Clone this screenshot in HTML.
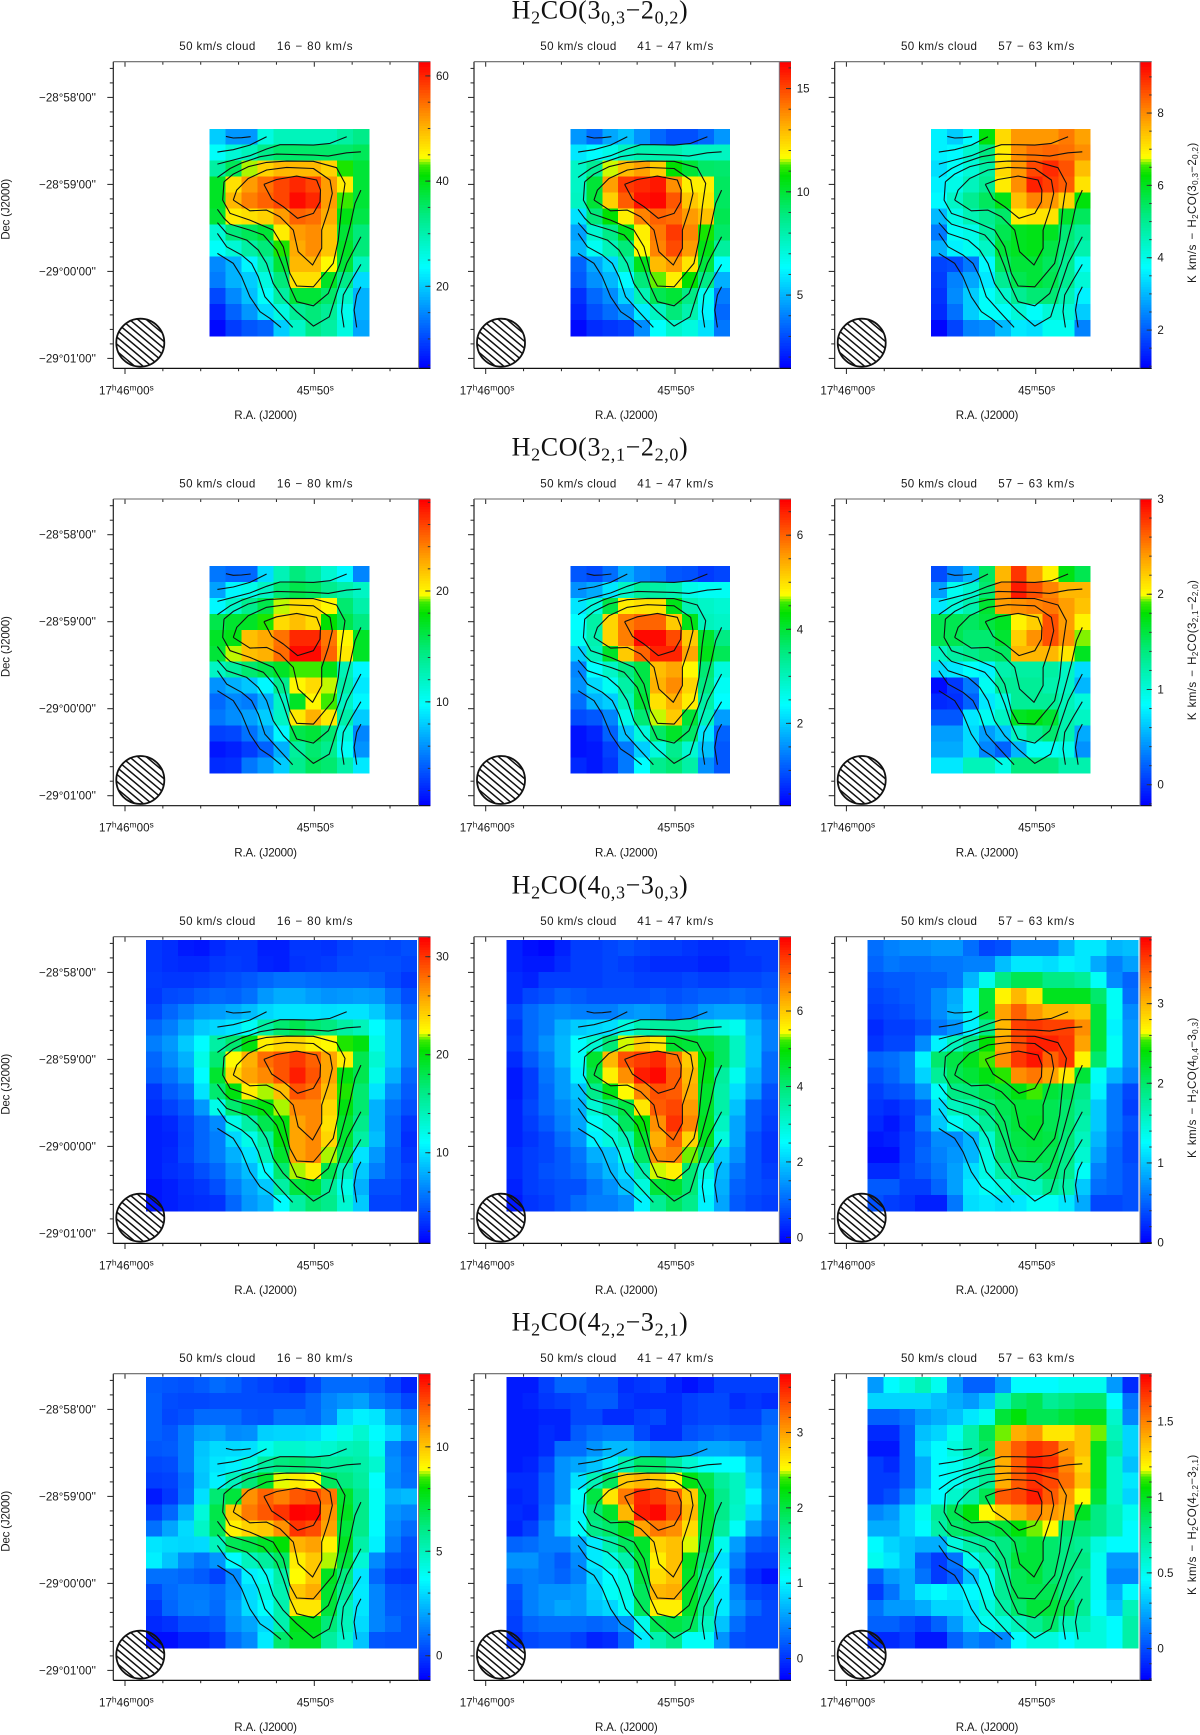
<!DOCTYPE html>
<html lang="en">
<head>
<meta charset="utf-8">
<title>H2CO integrated intensity maps of the 50 km/s cloud</title>
<style>
html,body{margin:0;padding:0;background:#fff;}
svg{display:block;}
.s{font-family:"Liberation Sans",sans-serif;font-size:11.6px;fill:#1a1a1a;}
.big{font-family:"Liberation Serif",serif;font-size:26px;fill:#111;letter-spacing:.65px;}
.big .sub{font-size:18px;}
.r{font-family:"Liberation Sans",sans-serif;font-size:11.6px;fill:#1a1a1a;letter-spacing:.35px;word-spacing:1.2px;}
.r .sub{font-size:8px;}
</style>
</head>
<body>
<svg id="chart" width="1200" height="1735" viewBox="0 0 1200 1735">
<text class="big" x="600" y="18.3" text-anchor="middle">H<tspan class="sub" dy="5">2</tspan><tspan dy="-5">CO(3</tspan><tspan class="sub" dy="5">0,3</tspan><tspan dy="-5">−2</tspan><tspan class="sub" dy="5">0,2</tspan><tspan dy="-5">)</tspan></text>
<text class="big" x="600" y="455.6" text-anchor="middle">H<tspan class="sub" dy="5">2</tspan><tspan dy="-5">CO(3</tspan><tspan class="sub" dy="5">2,1</tspan><tspan dy="-5">−2</tspan><tspan class="sub" dy="5">2,0</tspan><tspan dy="-5">)</tspan></text>
<text class="big" x="600" y="893.3" text-anchor="middle">H<tspan class="sub" dy="5">2</tspan><tspan dy="-5">CO(4</tspan><tspan class="sub" dy="5">0,3</tspan><tspan dy="-5">−3</tspan><tspan class="sub" dy="5">0,3</tspan><tspan dy="-5">)</tspan></text>
<text class="big" x="600" y="1330.3" text-anchor="middle">H<tspan class="sub" dy="5">2</tspan><tspan dy="-5">CO(4</tspan><tspan class="sub" dy="5">2,2</tspan><tspan dy="-5">−3</tspan><tspan class="sub" dy="5">2,1</tspan><tspan dy="-5">)</tspan></text>

<g id="r1c1" transform="translate(113.3,61.7)">
<text class="s" x="66" y="-11.7" textLength="76">50 km/s cloud</text>
<text class="s" x="163.6" y="-11.7" textLength="75.7">16 − 80 km/s</text>
<text class="s" x="121" y="357.3" textLength="62.7">R.A. (J2000)</text>
<text class="s" transform="translate(-104,147.6) rotate(-90)" text-anchor="middle" textLength="61">Dec (J2000)</text>
</g>
<g id="r1c2" transform="translate(474,61.7)">
<text class="s" x="66.3" y="-11.7" textLength="76">50 km/s cloud</text>
<text class="s" x="163.3" y="-11.7" textLength="76">41 − 47 km/s</text>
<text class="s" x="121" y="357.3" textLength="62.7">R.A. (J2000)</text>
</g>
<g id="r1c3" transform="translate(834.7,61.7)">
<text class="s" x="66.3" y="-11.7" textLength="76">50 km/s cloud</text>
<text class="s" x="163.6" y="-11.7" textLength="76">57 − 63 km/s</text>
<text class="s" x="121" y="357.3" textLength="62.7">R.A. (J2000)</text>
<text class="r" transform="translate(361.3,151) rotate(-90)" text-anchor="middle">K km/s − H<tspan class="sub" dy="2">2</tspan><tspan dy="-2">CO(3</tspan><tspan class="sub" dy="2">0,3</tspan><tspan dy="-2">−2</tspan><tspan class="sub" dy="2">0,2</tspan><tspan dy="-2">)</tspan></text>
</g>

<g id="r2c1" transform="translate(113.3,499)">
<text class="s" x="66" y="-11.7" textLength="76">50 km/s cloud</text>
<text class="s" x="163.6" y="-11.7" textLength="75.7">16 − 80 km/s</text>
<text class="s" x="121" y="357.3" textLength="62.7">R.A. (J2000)</text>
<text class="s" transform="translate(-104,147.6) rotate(-90)" text-anchor="middle" textLength="61">Dec (J2000)</text>
</g>
<g id="r2c2" transform="translate(474,499)">
<text class="s" x="66.3" y="-11.7" textLength="76">50 km/s cloud</text>
<text class="s" x="163.3" y="-11.7" textLength="76">41 − 47 km/s</text>
<text class="s" x="121" y="357.3" textLength="62.7">R.A. (J2000)</text>
</g>
<g id="r2c3" transform="translate(834.7,499)">
<text class="s" x="66.3" y="-11.7" textLength="76">50 km/s cloud</text>
<text class="s" x="163.6" y="-11.7" textLength="76">57 − 63 km/s</text>
<text class="s" x="121" y="357.3" textLength="62.7">R.A. (J2000)</text>
<text class="r" transform="translate(361.3,151) rotate(-90)" text-anchor="middle">K km/s − H<tspan class="sub" dy="2">2</tspan><tspan dy="-2">CO(3</tspan><tspan class="sub" dy="2">2,1</tspan><tspan dy="-2">−2</tspan><tspan class="sub" dy="2">2,0</tspan><tspan dy="-2">)</tspan></text>
</g>

<g id="r3c1" transform="translate(113.3,936.7)">
<text class="s" x="66" y="-11.7" textLength="76">50 km/s cloud</text>
<text class="s" x="163.6" y="-11.7" textLength="75.7">16 − 80 km/s</text>
<text class="s" x="121" y="357.3" textLength="62.7">R.A. (J2000)</text>
<text class="s" transform="translate(-104,147.6) rotate(-90)" text-anchor="middle" textLength="61">Dec (J2000)</text>
</g>
<g id="r3c2" transform="translate(474,936.7)">
<text class="s" x="66.3" y="-11.7" textLength="76">50 km/s cloud</text>
<text class="s" x="163.3" y="-11.7" textLength="76">41 − 47 km/s</text>
<text class="s" x="121" y="357.3" textLength="62.7">R.A. (J2000)</text>
</g>
<g id="r3c3" transform="translate(834.7,936.7)">
<text class="s" x="66.3" y="-11.7" textLength="76">50 km/s cloud</text>
<text class="s" x="163.6" y="-11.7" textLength="76">57 − 63 km/s</text>
<text class="s" x="121" y="357.3" textLength="62.7">R.A. (J2000)</text>
<text class="r" transform="translate(361.3,151) rotate(-90)" text-anchor="middle">K km/s − H<tspan class="sub" dy="2">2</tspan><tspan dy="-2">CO(4</tspan><tspan class="sub" dy="2">0,4</tspan><tspan dy="-2">−3</tspan><tspan class="sub" dy="2">0,3</tspan><tspan dy="-2">)</tspan></text>
</g>

<g id="r4c1" transform="translate(113.3,1373.7)">
<text class="s" x="66" y="-11.7" textLength="76">50 km/s cloud</text>
<text class="s" x="163.6" y="-11.7" textLength="75.7">16 − 80 km/s</text>
<text class="s" x="121" y="357.3" textLength="62.7">R.A. (J2000)</text>
<text class="s" transform="translate(-104,147.6) rotate(-90)" text-anchor="middle" textLength="61">Dec (J2000)</text>
</g>
<g id="r4c2" transform="translate(474,1373.7)">
<text class="s" x="66.3" y="-11.7" textLength="76">50 km/s cloud</text>
<text class="s" x="163.3" y="-11.7" textLength="76">41 − 47 km/s</text>
<text class="s" x="121" y="357.3" textLength="62.7">R.A. (J2000)</text>
</g>
<g id="r4c3" transform="translate(834.7,1373.7)">
<text class="s" x="66.3" y="-11.7" textLength="76">50 km/s cloud</text>
<text class="s" x="163.6" y="-11.7" textLength="76">57 − 63 km/s</text>
<text class="s" x="121" y="357.3" textLength="62.7">R.A. (J2000)</text>
<text class="r" transform="translate(361.3,151) rotate(-90)" text-anchor="middle">K km/s − H<tspan class="sub" dy="2">2</tspan><tspan dy="-2">CO(4</tspan><tspan class="sub" dy="2">2,2</tspan><tspan dy="-2">−3</tspan><tspan class="sub" dy="2">2,1</tspan><tspan dy="-2">)</tspan></text>
</g>
</svg>

<script>
// ---------- integrated intensity maps (K km/s), top row first, east on the left ----------
const map_r1c1 = [
[20,16,16,26,29,29,29,29,31,33],
[24,27,29,33,35,35,35,35,35,36],
[31,36,44,48,50,50,50,48,42,38],
[39,47,52,55,58,60,58,52,46,38],
[39,50,54,56,58,62,60,52,43,38],
[38,46,47,48,52,56,55,51,40,37],
[27,34,36,38,46,52,53,49,38,34],
[24,27,31,34,42,51,53,49,39,34],
[15,18,23,30,38,50,50,45,38,29],
[14,18,20,26,34,47,47,39,33,21],
[10,15,19,24,31,38,38,35,28,18],
[7,12,16,21,26,32,34,32,25,18],
[5,9,11,12,20,28,33,31,26,17]];
const map_r1c2 = [
[4.4,3.6,4.7,5.2,4.3,3.5,3,3,3.5,4.4],
[5.9,6.3,6.8,7.6,8,8,8,7.6,7.6,7.6],
[7.5,8.5,11.6,13,13.5,12.7,10.8,10,9.3,9.2],
[7.5,10,13.5,15.3,15.6,15.9,13.8,12,12,9.4],
[7.6,10,12.6,14.7,16,16.2,14.8,12.8,12.2,9.4],
[5.8,9,10.8,12,14,14.6,14.4,13.6,12.9,9.6],
[4.6,7.3,8.8,10.4,12,14.2,15.3,14,11,9.3],
[5,6.6,7.8,9,11.8,14,15,13.6,10.5,8.3],
[3.4,4.7,5.6,8,10.4,13,13.6,12.2,9.9,6.4],
[3.2,4.3,5,6.3,9,11.4,12,10.8,8.8,4.9],
[2.4,3.5,4.2,5.5,7.8,9.6,10,8.8,6.6,3.9],
[2.1,3,3.6,4.3,6,7.6,9,8,6.2,3.5],
[1.6,2.3,2.5,2.7,4.2,6.4,7.4,7,5.8,3.8]];
const map_r1c3 = [
[3.6,3.2,3.7,6.2,7.2,7.9,7.9,7.9,8.2,7.8],
[3.6,3.7,4.3,5.2,7,8,8.3,8.4,8.3,8],
[3.4,3.8,4.2,4.8,7.2,7.9,8.7,9,8.6,7.5],
[3.6,4,4.5,5,7,8,9.1,8.8,8.5,7.1],
[3.7,4.4,5,5.5,6.1,7.5,8.1,7.9,7.3,6.2],
[3,4,4.6,5,5.4,7,7.1,7.1,5.9,5.5],
[2.3,3.8,4,4.8,5.6,6,6.1,6,5.3,4.9],
[2.9,3.6,3.9,4.4,5.8,6,6.1,5.7,5.2,4.7],
[1.7,1.8,2.3,3.7,5.5,5.8,5.8,5.5,5,3.9],
[1.6,2.4,2.8,3.5,5,5.6,5.8,5.6,5,4.2],
[1.5,2.5,3.2,3.8,4.3,5,5.3,5.3,4.6,3.6],
[1.4,2.2,3.2,3.8,3.8,4.2,3.8,4.2,4.2,3.2],
[1,1.7,2.4,2.5,3,3.5,3.4,3.9,3.9,2.4]];
const map_r2c1 = [
[5,4.4,4.4,8.5,12.5,14.6,13.5,11.5,9.5,5.5],
[6.5,9.5,10.5,12,15,16,15.5,14,13,12],
[9.5,11.8,14,16,19.5,21,21,20,15,13],
[16,16.8,17,18.5,21,22,21,18,16,14.5],
[17,17.5,22,22.8,24.6,27,27,24.5,20,17],
[16.5,19.5,22,22.5,24.8,28,28,25,20.5,17],
[12,13.5,15,16,17,19,19,17.5,12.5,9.5],
[6,7,7.8,9.5,14,20,21,19.5,13,9],
[4.5,5.6,5.2,7,12,17,20,19,12,9.5],
[5,5.8,6.5,8,12,20.5,22.5,20.5,13,8],
[3,3.2,4.8,6.5,9.5,16,16.5,15,11,5.5],
[1.4,1.8,2.8,4.2,7,13.5,15,14,10,6],
[2.2,2.4,5,6.2,8,14,15.5,15,13,9]];
const map_r2c2 = [
[1,.9,1.2,1.7,1.4,1.3,1,.95,.75,.85],
[1.5,1.7,2.2,2.9,3.3,3.2,3.1,2.6,2.5,2.5],
[2.2,2.7,3.9,4.9,5,5,4.2,3.1,2.9,2.8],
[2.4,3.2,5.1,5.8,6,6,5.2,4.2,3,2.9],
[2.5,3.1,5.1,5.8,6.7,6.7,6.2,5.2,4.1,3.5],
[2,3,4.1,5.2,6,6.5,6.5,5.5,4.2,3.8],
[1.4,2.4,2.9,3.5,3.9,5.3,5.5,4.8,3.6,2.7],
[1.5,2.1,2.5,3.2,3.9,5.4,5.7,5.1,3.5,2.5],
[1.2,1.8,2,3,4,5,5.4,4.9,3.2,2.4],
[.9,1,1.4,2.6,3.6,4.7,5.2,4,3,1.6],
[.4,.55,1.1,1.9,2.7,3.7,4.1,3.7,2.2,1.1],
[.4,.45,.8,1.3,2,2.7,3.4,2.8,1.9,1],
[.6,.45,.7,1.3,2.4,3.4,3.6,3.2,1.5,1]];
const map_r2c3 = [
[.1,.35,.55,1.5,2.3,2.8,2.4,2.05,1.75,1.55],
[.45,.9,1.05,1.45,2.45,2.9,2.7,2.5,2.3,2.3],
[.75,1,1.2,1.65,2.4,2.45,2.5,2.55,2.4,2.25],
[1.55,1.55,1.5,1.6,1.7,2.05,2.2,2.7,2.4,2.05],
[1.55,1.55,1.45,1.45,1.65,2.2,2.45,2.7,2.45,1.95],
[1.1,1.25,1.35,1.45,1.5,2.3,2.3,2.3,2.1,1.7],
[.7,.75,.85,.8,1.2,1.25,1.25,1.25,1.1,.7],
[-.18,.02,.3,.9,1.3,1.3,1.3,1.2,1.1,.55],
[-.05,-.02,.2,.75,.95,1.3,1.3,1.3,1.15,1],
[.15,.15,.75,.9,1.1,1.7,1.75,1.65,1.2,1.1],
[.45,.45,.7,.45,.6,1.1,1.3,1.45,1.2,.5],
[.5,.5,.7,.35,.2,.55,.9,.9,.95,.4],
[.75,.75,1.15,1.15,.95,1.4,1.4,1.4,1.2,1.2]];
const map_r3c1 = [
[3,2.6,1.8,1.6,2.4,3,3,2,2,3,3,2.8,3.4,3.8,3.8,3.6,4],
[3,2.6,2.4,2.4,3,3.2,3,2.2,2,2.8,3,3.2,3.8,3.8,4,4,3.6],
[3.2,3,3,3.2,3.6,4,4.4,5,5.5,5.5,5.2,5,5,5,4.6,3.8,3],
[3,3.8,4,4.6,5,4.8,5.4,7,7.8,7.8,7.2,6.8,7,7.2,7,5.5,4],
[3.6,5,6,7,7.2,7.8,8.5,9.5,10,10,10,9.8,10,10,9,7,5],
[5,6,7.5,9,9.5,10,11.5,15,17,18,17,16.5,15,14,11,9,6],
[6,7,9,11,15,17,20,23,24,24,23,22.5,21,20,12,9,6],
[5,6.5,8,12,17,22.5,25.5,28,29,30,28.5,26,23,18,13,9,6],
[4.6,5.5,7,11,19,24,26,27,29,31,29,26,20,18,12,8,5],
[3,4.5,5.5,10,17,20,23,22,25,29,28,25,21,17,10,6.5,4.5],
[2.6,3.5,4.5,7,12,17,19,20,22,27,27,24,20,17,8,5.5,4],
[2,2.4,3.6,5,6.5,12,15,18,20,26,27,23.5,19,16,8,5,3],
[2,2.2,3.5,5,6,9.5,12,15,20,26,27,24,19,15,8.5,5,2.6],
[2,2.4,3.6,5,6,8,10,14,19,26,27,22,18,10,7,4.5,3],
[2,2.6,3,4,5,7,8.5,11,17,22,23,18,14,9,6,4.5,3.5],
[1.6,2,2.6,3,4,6,7.5,9,15,18.5,19,15.5,12,8,4,4,3],
[1.6,2,2.4,2.6,2.8,5,7,8,11,15,17,16,13,9,3.5,3.5,3]];
const map_r3c2 = [
[.2,0,-.1,.2,.5,.5,.6,.7,.6,.5,.5,.4,.3,.3,.4,.5,.5],
[.2,.1,.1,.3,.5,.5,.6,.5,.4,.3,.3,.3,.2,.2,.4,.4,.5],
[.3,.2,.5,.5,.5,.5,.6,.6,.5,.5,.5,.6,.5,.5,.6,.6,.7],
[.3,.6,.7,.9,.8,.7,.7,.7,.7,.8,.7,.8,.9,.9,1,.9,.8],
[.6,1,1.2,1.3,1.2,1.2,1.2,1.4,1.5,1.4,1.1,1.2,1.5,1.6,1.6,1.4,1],
[.4,1,1.2,1.7,2,2.1,2.2,2.9,3.4,3.6,3.6,3.6,3.2,2.9,2.7,1.8,1.2],
[.5,1,1.4,1.8,2.5,3,4,5.4,6,5.7,4.6,4.5,4.4,4.2,3.2,1.9,1.2],
[.3,.8,1.2,1.8,2.6,4.6,6.2,7.2,7.4,7.6,6.9,6,4.9,4.2,3.2,1.9,1],
[.1,.5,1.1,1.5,2.4,4.4,5.6,6.6,7.7,7.9,7.1,6.2,4.8,3.6,2.7,1.7,1],
[.1,.5,1,1.5,1.9,3.8,4.8,5.5,6.7,7.2,7.1,6.3,4.6,3.5,2.2,1.5,.7],
[.2,.6,1,1.3,1.7,3,3.8,4.4,5.7,7.1,7.3,6.5,4.6,3.5,1.9,.9,.6],
[.2,.5,.8,1.2,1.6,2.6,3,4.2,4.9,6.6,7.5,6.7,4.7,3.2,1.6,.9,.5],
[.2,.4,.6,1,1.4,2.4,2.9,3.3,4.6,6.3,7,5.9,4.7,2.9,1.6,.7,.4],
[.3,.5,.6,.8,1.1,1.7,1.9,2.8,4.2,6.6,6.7,5.3,4.2,2,1.4,.7,.4],
[.3,.5,.7,.8,1,1.4,1.8,2.2,3.4,5.4,5.6,4,2.9,1.8,1.1,.7,.5],
[.2,.5,.6,.7,.7,1.1,1.4,1.9,2.9,4.5,4.6,4,2.5,1.7,.9,.7,.6],
[.1,.4,.5,.7,1,1.2,1.2,1.4,2.4,3.7,4.2,3.8,2.4,1.6,.8,.6,.5]];
const map_r3c3 = [
[.55,.65,.7,.7,.75,.75,.55,.35,.4,.65,.65,.65,.9,1.15,1.15,.9,.95],
[.5,.6,.55,.55,.6,.6,.65,.65,.95,1.15,1.15,1.1,1.2,1.15,.85,.65,.8],
[.4,.45,.45,.5,.5,.6,.9,1.35,1.9,2.1,2.1,1.9,1.9,1.8,1.3,.7,.5],
[.35,.4,.45,.5,.7,.85,1.2,2.2,2.7,3,2.75,2.3,2.3,2.3,2,1.3,.55],
[.3,.35,.4,.5,.7,.9,1.2,2.2,3.1,3.4,3.15,3,3,2.95,2.2,1.3,.7],
[.2,.3,.3,.4,.6,.75,1.2,1.9,3,3.55,3.6,3.55,3.55,3.2,2.2,1.2,.75],
[.25,.35,.35,.7,1.2,1.6,1.9,2.4,3.1,3.5,3.7,3.7,3.6,3.1,2.2,1.3,.75],
[.5,.55,.65,1.2,2,2.15,2.3,2.55,3.2,3.6,3.75,3.4,3.6,2.7,2,1.3,.75],
[.4,.5,.65,1.05,1.8,2.1,2.2,2.35,2.5,3.2,3.3,3.1,2.75,2.2,1.3,.9,.65],
[.3,.4,.45,.75,1.3,1.9,1.95,2.1,2.2,2.35,2.55,2.2,2.1,1.9,1.2,.6,.35],
[.25,.2,.3,.45,1.1,1.6,1.7,1.95,2.1,2.2,2.2,2.1,2,1.8,1,.6,.3],
[.2,.1,.25,.6,1,1.3,1.5,1.8,2.05,2.2,2.25,2.1,2,1.7,1,.6,.4],
[.1,.15,.3,.45,.7,.7,.9,1.5,2,2.15,2.2,2.15,1.95,1.6,.9,.55,.35],
[.05,.05,.3,.5,.65,.75,.9,1.4,1.95,2.1,2.15,2.1,1.9,1.5,.8,.5,.35],
[.2,.2,.35,.45,.6,.8,1.1,1.4,1.75,1.95,1.95,2.05,1.85,1.3,.65,.5,.4],
[.45,.45,.3,.3,.5,.8,1.15,1.3,1.4,1.55,1.6,1.85,1.7,1,.55,.5,.4],
[.4,.3,.25,.15,.15,.6,1.1,1.15,1.1,1.15,1.3,1.3,1.15,.85,.35,.35,.4]];
const map_r4c1 = [
[.6,.5,.4,.6,.9,.7,.3,.1,-.1,-.3,.2,.9,.9,.9,.7,.1,-.5],
[.7,.3,.2,.2,.3,.3,.3,.3,.3,.3,.8,1.4,1.7,1.9,1.2,.8,.2],
[.7,.2,.4,.9,.9,.9,.5,.4,1,1,.8,1.5,3,3.4,3.2,1.9,1.3],
[.7,.5,1.2,1.9,2,1.5,1.6,2.8,2.9,2.9,3,3.5,4,4.6,3.6,3,1.9],
[.5,.6,1.2,2.6,3,3,3.1,4,4.6,4.6,4.4,4.6,5,5.2,4,1.4,.7],
[.2,.3,1.2,2.7,3.2,3.4,4.2,5.6,6.2,6.4,6.1,5.6,5.7,5.4,4.6,1.6,.9],
[0,.1,.9,2.6,3.4,5,6.3,7.4,8.9,9.3,9,6.7,6.2,5.6,3.7,1.5,1],
[-.7,-.1,1,3.1,6.4,7.2,11,11.8,11.3,12,12.2,11.5,7.4,6,3.8,2.2,2.4],
[0,.8,2.2,4.4,7,10,11.4,12,12.6,13.5,13.4,11,7.6,6,3.8,1.7,1.4],
[1,2,3,4.8,6.8,9.2,9.8,10,11,12.6,12.2,10.7,7.2,6,3.6,1.5,.9],
[3.2,3,2.9,3,5,6.8,7,7.5,8,10.4,10.7,9.2,7.6,5.4,3.4,1.2,.4],
[3.4,2.6,1.6,1.1,1.7,3.6,5,5.6,6.6,9.3,10,8.8,7.2,4.5,1.5,.5,.3],
[1,1,.8,.6,.1,1.5,3.4,3.9,5.4,9,10,7.6,6.2,3.2,.8,0,-.1],
[.3,.9,1.2,1.2,1,1.6,3,4.3,5.2,10,10.5,7.4,5.8,3.3,1.4,.5,.4],
[-.1,.8,1.2,1.3,.9,1.8,3,3.7,5.3,9.4,9.4,7.2,5.1,3.2,1.4,.6,.5],
[-.4,-.2,.3,.3,.5,1.6,2,3,5.3,7.7,7.7,6.3,5,3,1.4,.9,.4],
[-.9,-.9,-.5,-.5,-.1,1,1.5,3.3,6.5,7.5,7.5,5.6,4.6,2.6,.5,.4,.4]];
const map_r4c2 = [
[-.15,-.15,.05,.25,.25,.15,.15,-.05,0,.05,-.1,-.2,-.1,.05,.05,.05,.05],
[-.15,-.1,0,.05,.1,.2,.2,0,-.05,-.05,-.05,.05,.1,.1,-.05,0,-.05],
[-.15,-.15,-.1,-.1,.1,.1,-.05,-.05,.05,.1,-.05,.05,.1,.1,.05,.05,.25],
[-.15,-.15,-.05,-.1,.2,.3,.35,.35,.1,-.05,-.05,.15,.2,.25,.2,.2,.35],
[-.15,-.15,-.05,.3,.3,.5,.7,.7,.6,.5,.5,.5,.6,.6,.55,.4,.35],
[-.15,-.1,.1,.5,.6,.75,.95,1.5,1.85,1.85,1.6,1.3,1.1,1.05,1.05,.7,.35],
[-.05,-.05,.2,.5,.9,1.45,1.9,2.8,2.9,2.8,2.6,2.2,1.95,1.6,1.4,.8,.4],
[-.1,-.05,.2,.5,1.05,2,2.65,3.2,3.6,3.5,3.3,2.8,2.1,1.7,1.4,1,.45],
[-.05,-.1,.25,.7,1,1.8,2.1,2.9,3.65,3.75,3.4,2.9,2.1,1.7,1.35,.85,.4],
[-.1,.05,.4,.75,1.05,1.7,1.85,2.15,3,3.2,3.1,2.7,2.05,1.6,1.1,.55,.3],
[.25,.3,.4,.4,.6,.95,1.5,1.9,2.1,2.75,2.85,2.5,1.95,1.15,.55,.2,.15],
[.5,.5,.35,.2,.45,.95,1.2,1.5,2.05,2.6,2.85,2.15,1.8,.9,.4,.05,.05],
[.35,.4,.35,.25,.4,.85,1.05,1.2,2,2.7,2.85,2.1,1.65,1,.2,-.05,-.2],
[.15,.4,.5,.5,.55,.8,1.1,1.2,1.9,2.9,2.95,2.1,1.7,.95,.4,.1,.05],
[.1,.4,.5,.6,.55,.75,.85,1.1,1.9,2.6,2.6,2.1,1.6,.95,.5,.25,.1],
[.05,.25,.3,.3,.3,.25,.3,.5,1.15,1.95,2,1.9,1.4,.75,.3,.1,.1],
[-.05,.1,.15,.15,.05,-.1,-.05,.25,.95,1.5,1.7,1.1,1.1,.5,.15,.1,.1]];
const map_r4c3 = [
[.2,.45,.55,.65,.5,.2,.05,.05,.2,.45,.45,.45,.5,.5,.5,.2,-.1],
[.35,.35,.35,.35,.3,.25,.2,.3,.65,.85,.9,.75,.8,.85,.85,.45,.1],
[.05,.05,.1,.2,.25,.3,.4,.5,.95,1.05,.9,.9,.95,1,1,.6,.15],
[-.1,-.1,.05,.3,.35,.5,.7,.9,1.15,1.4,1.45,1.25,1.25,1.35,1.15,.65,.35],
[-.15,-.15,.05,.35,.45,.55,.7,.85,1.45,1.6,1.7,1.65,1.45,1.35,1,.7,.35],
[-.05,-.1,.05,.25,.45,.5,.6,.75,1.4,1.6,1.75,1.7,1.5,1.3,1,.6,.3],
[-.05,-.05,.05,.25,.45,.5,.6,.75,1.4,1.6,1.7,1.65,1.55,1.35,1,.6,.4],
[-.05,0,.15,.35,.45,.6,.7,.9,1.6,1.65,1.75,1.6,1.45,1.2,.95,.6,.35],
[.15,.2,.35,.5,.75,.9,1.05,1.2,1.3,1.4,1.5,1.45,1.4,1,.8,.65,.5],
[.25,.25,.35,.45,.7,.85,.9,.9,.95,1.05,1.15,1.2,.85,.85,.8,.65,.45],
[.45,.35,.3,.25,.25,.55,.7,.75,.8,.9,.95,.85,.8,.75,.55,.45,.45],
[.5,.4,.3,.05,-.05,.1,.5,.65,.8,.95,.95,.85,.8,.8,.5,.2,.2],
[.05,.2,.25,.1,-.05,.05,.3,.5,.75,.9,.95,.85,.8,.75,.5,.15,.15],
[-.05,.1,.25,.4,.45,.4,.45,.5,.75,.9,.9,.9,.8,.75,.5,.25,.45],
[.1,.2,.2,.25,.35,.35,.4,.55,.7,.85,.95,.95,.9,.75,.45,.3,.65],
[.05,.05,0,-.05,.05,.2,.35,.5,.55,.65,.75,.85,.65,.65,.55,.45,.7],
[-.1,-.1,-.05,-.15,-.15,.05,.15,.1,.15,.45,.55,.55,.45,.55,.55,.45,.7]];

// ---------- colour-scale limits and colourbar tick values ----------
const scale_r1c1 = [4.4,62.7], barTicks_r1c1 = [20,40,60], barMinor_r1c1 = 5;
const scale_r1c2 = [1.45,16.3], barTicks_r1c2 = [5,10,15], barMinor_r1c2 = 1;
const scale_r1c3 = [.94,9.42], barTicks_r1c3 = [2,4,6,8], barMinor_r1c3 = .5;
const scale_r2c1 = [.63,28.3], barTicks_r2c1 = [10,20], barMinor_r2c1 = 2;
const scale_r2c2 = [.25,6.77], barTicks_r2c2 = [2,4,6], barMinor_r2c2 = .5;
const scale_r2c3 = [-.22,3], barTicks_r2c3 = [0,1,2,3], barMinor_r2c3 = .2;
const scale_r3c1 = [.75,32.04], barTicks_r3c1 = [10,20,30], barMinor_r3c1 = 2;
const scale_r3c2 = [-.16,7.97], barTicks_r3c2 = [0,2,4,6], barMinor_r3c2 = .5;
const scale_r3c3 = [-.01,3.84], barTicks_r3c3 = [0,1,2,3], barMinor_r3c3 = .2;
const scale_r4c1 = [-1.18,13.5], barTicks_r4c1 = [0,5,10], barMinor_r4c1 = 1;
const scale_r4c2 = [-.29,3.78], barTicks_r4c2 = [0,1,2,3], barMinor_r4c2 = .2;
const scale_r4c3 = [-.21,1.815], barTicks_r4c3 = [0,.5,1,1.5], barMinor_r4c3 = .1;

// ---------- contours: [seconds of RA west of 17h46m00s, arcsec of Dec south of -28d58m00s] ----------
const contour1 = [[5.33,26.9],[5.72,28],[6.16,27.8],[6.64,27.1]];
const contour2 = [[4.88,37.7],[5.72,36.1],[6.6,32.9],[7.48,27.1]];
const contour3 = [[4.88,46],[5.72,43.2],[6.6,40.2],[7.48,35.6],[8.19,32.6],[8.89,32.6],[9.95,32.9],[10.83,31.7],[11.71,27.1]];
const contour4 = [[4.88,55.2],[5.55,49],[6.18,45.1],[7.13,40.9],[8.01,39.1],[9.95,39.8],[10.74,40.5],[11.71,38.2],[12.46,37.5]];
const contour5 = [[5.23,58.2],[5.72,52.9],[6.51,47.8],[7.48,44.8],[8.54,43.9],[9.95,44.1],[11.18,48.5],[11.62,59.3],[11.44,75.4],[11.27,98.4],[11,114.5],[9.95,130.6],[9.07,130.1],[8.71,121.4],[8.36,103],[7.83,91.5],[6.6,84.6],[5.55,80],[5.16,70.8],[5.23,58.2]];
const contour6 = [[5.72,70.8],[5.9,63.9],[6.51,55.9],[7.48,50.1],[8.54,48.3],[9.95,49],[10.83,57],[10.95,66.2],[10.74,77.7],[10.39,91.5],[10.39,104.1],[9.91,115.6],[9.15,106.4],[8.89,91.5],[8.19,82.3],[7.48,77.7],[6.6,78.2],[5.72,70.8]];
const contour7 = [[7.34,60],[8.01,56.6],[9.07,54.3],[10.12,57],[10.33,63.9],[10.3,72],[9.95,80],[9.12,83.4],[8.36,75.4],[7.75,70.1],[7.34,60]];
const contour8 = [[4.88,77.2],[5.23,83.4],[5.55,87.4],[6.6,91.5],[7.31,94.9],[8.01,105.3],[8.36,116.8],[8.71,130.6],[9.07,140.9],[9.95,143.7],[10.74,135.2],[11.36,114.5],[11.88,89.2],[12.15,73.1],[12.46,63.9]];
const contour9 = [[4.88,86.4],[5.37,93.8],[6.43,98.4],[7.04,105.3],[7.48,114.5],[7.83,128.3],[8.36,138.6],[9.07,147.8],[9.95,157.7],[10.79,151.3],[11.18,135.2],[11.71,114.5],[12.46,96.1]];
const contour10 = [[4.88,93.8],[5.37,103],[6.16,108.7],[6.69,114.5],[7.04,123.7],[7.39,137.5],[8.1,147.8],[8.86,158.6]];
const contour11 = [[4.88,107.6],[5.72,114.5],[6.16,123.7],[6.6,137.5],[7.13,147.8],[7.66,152.4],[8.24,158.6]];
const contour12 = [[12.46,115.2],[11.97,126],[11.53,136.3],[11.44,147.8],[11.57,158.6]];
const contour13 = [[12.46,130.6],[12.24,136.3],[12.1,146.7],[12.24,158.6]];

// ---------- axis ticks ----------
const decTickValues = [0,60,120,180];
const decTickLabels = ["−28°58'00''","−28°59'00''","−29°00'00''","−29°01'00''"];
const decMinorValues = [-20,-10,10,20,30,40,50,70,80,90,100,110,130,140,150,160,170];
const raTickValues = [0,10];
const raMinorValues = [2,4,6,8,12,14];

const panels = [
 {id:'r1c1',values:map_r1c1,scale:scale_r1c1,ticks:barTicks_r1c1,minor:barMinor_r1c1,wide:false,col:0},
 {id:'r1c2',values:map_r1c2,scale:scale_r1c2,ticks:barTicks_r1c2,minor:barMinor_r1c2,wide:false,col:1},
 {id:'r1c3',values:map_r1c3,scale:scale_r1c3,ticks:barTicks_r1c3,minor:barMinor_r1c3,wide:false,col:2},
 {id:'r2c1',values:map_r2c1,scale:scale_r2c1,ticks:barTicks_r2c1,minor:barMinor_r2c1,wide:false,col:0},
 {id:'r2c2',values:map_r2c2,scale:scale_r2c2,ticks:barTicks_r2c2,minor:barMinor_r2c2,wide:false,col:1},
 {id:'r2c3',values:map_r2c3,scale:scale_r2c3,ticks:barTicks_r2c3,minor:barMinor_r2c3,wide:false,col:2},
 {id:'r3c1',values:map_r3c1,scale:scale_r3c1,ticks:barTicks_r3c1,minor:barMinor_r3c1,wide:true,col:0},
 {id:'r3c2',values:map_r3c2,scale:scale_r3c2,ticks:barTicks_r3c2,minor:barMinor_r3c2,wide:true,col:1},
 {id:'r3c3',values:map_r3c3,scale:scale_r3c3,ticks:barTicks_r3c3,minor:barMinor_r3c3,wide:true,col:2},
 {id:'r4c1',values:map_r4c1,scale:scale_r4c1,ticks:barTicks_r4c1,minor:barMinor_r4c1,wide:true,col:0},
 {id:'r4c2',values:map_r4c2,scale:scale_r4c2,ticks:barTicks_r4c2,minor:barMinor_r4c2,wide:true,col:1},
 {id:'r4c3',values:map_r4c3,scale:scale_r4c3,ticks:barTicks_r4c3,minor:barMinor_r4c3,wide:true,col:2}
];
const contours = [contour1,contour2,contour3,contour4,contour5,contour6,contour7,contour8,contour9,contour10,contour11,contour12,contour13];

// ---------- geometry and axis functions ----------
const SVGNS = document.getElementById('chart').namespaceURI;
const FRAME_W = 317, FRAME_H = 306.7, BAR_W = 11.7;
const PX_PER_SEC = 18.93, PX_PER_ARCSEC = 1.45, X_ORIGIN = 11.7, Y_ORIGIN = 35.7;
const CELL_SEC = 0.8415, CELL_ARCSEC = 10.99;
const WIDE_RA0 = 1.11, WIDE_DEC0 = -22.3, NARROW_OFFSET = 4;
const COLOR_STOPS = [[0,0,0,255],[.17,0,128,255],[.33,0,255,255],[.5,0,235,130],[.63,0,225,0],[.665,60,235,0],[.69,255,255,0],[.8,255,170,0],[.9,255,85,0],[1,255,0,0]];

function xSky(sec){return X_ORIGIN + sec*PX_PER_SEC;}
function ySky(arcsec){return Y_ORIGIN + arcsec*PX_PER_ARCSEC;}
function colorAt(t){
  t = Math.max(0,Math.min(1,t));
  for(let i=1;i<COLOR_STOPS.length;i++){
    const a=COLOR_STOPS[i-1], b=COLOR_STOPS[i];
    if(t<=b[0]){
      const f=(t-a[0])/(b[0]-a[0]);
      return 'rgb('+Math.round(a[1]+f*(b[1]-a[1]))+','+Math.round(a[2]+f*(b[2]-a[2]))+','+Math.round(a[3]+f*(b[3]-a[3]))+')';
    }
  }
  return 'rgb(255,0,0)';
}
function mk(tag,attrs,parent){
  const el=document.createElementNS(SVGNS,tag);
  for(const k in attrs){el.setAttribute(k,attrs[k]);}
  parent.appendChild(el);
  return el;
}
function tickLine(parent,x1,y1,x2,y2,color){
  return mk('line',{x1:x1,y1:y1,x2:x2,y2:y2,stroke:color,'stroke-width':1},parent);
}

panels.forEach(function(p){
  const g=document.getElementById(p.id);
  const barLeft=FRAME_W-BAR_W;
  const barY=function(v){return FRAME_H*(1-(v-p.scale[0])/(p.scale[1]-p.scale[0]));};

  // x-axis ticks
  raTickValues.forEach(function(v){
    const top=tickLine(g,xSky(v),0,xSky(v),5,'#222');
    
    
    const bot=tickLine(g,xSky(v),FRAME_H,xSky(v),FRAME_H+5.6,'#222');
    
    
  });
  raMinorValues.forEach(function(v){
    const top=tickLine(g,xSky(v),0,xSky(v),3,'#222');
    
    
    const bot=tickLine(g,xSky(v),FRAME_H,xSky(v),FRAME_H+2.8,'#222');
    
    
  });
  // y-axis ticks
  decTickValues.forEach(function(v){
    const t=tickLine(g,-6,ySky(v),0,ySky(v),'#222');
    
    
  });
  decMinorValues.forEach(function(v){
    const t=tickLine(g,-3.5,ySky(v),0,ySky(v),'#222');
    
    
  });

  // map cells
  const ra0=p.wide?WIDE_RA0:WIDE_RA0+NARROW_OFFSET*CELL_SEC;
  const dec0=p.wide?WIDE_DEC0:WIDE_DEC0+NARROW_OFFSET*CELL_ARCSEC;
  p.values.forEach(function(row,r){
    row.forEach(function(v,c){
      const x0=xSky(ra0+c*CELL_SEC), x1=xSky(ra0+(c+1)*CELL_SEC);
      const y0=ySky(dec0+r*CELL_ARCSEC), y1=ySky(dec0+(r+1)*CELL_ARCSEC);
      const cell=mk('rect',{x:x0,y:y0,width:x1-x0+.3,height:y1-y0+.3,fill:colorAt((v-p.scale[0])/(p.scale[1]-p.scale[0])),'shape-rendering':'crispEdges'},g);
      
      
    });
  });

  // contours
  contours.forEach(function(line){
    const pts=line.map(function(q){return xSky(q[0]).toFixed(1)+','+ySky(q[1]).toFixed(1);}).join(' ');
    const pl=mk('polyline',{points:pts,fill:'none',stroke:'#111','stroke-width':1.1,'stroke-linejoin':'round'},g);
    
    
  });

  // colourbar
  const steps=120;
  for(let i=0;i<steps;i++){
    const v0=p.scale[0]+(p.scale[1]-p.scale[0])*i/steps;
    const v1=p.scale[0]+(p.scale[1]-p.scale[0])*(i+1)/steps;
    const band=mk('rect',{x:barLeft,y:barY(v1),width:BAR_W,height:barY(v0)-barY(v1)+.4,fill:colorAt(i/(steps-1)),'shape-rendering':'crispEdges'},g);
    
    
  }
  const mStart=Math.ceil(p.scale[0]/p.minor);
  const mEnd=Math.floor(p.scale[1]/p.minor);
  for(let m=mStart;m<=mEnd;m++){
    const v=m*p.minor;
    const mt=tickLine(g,FRAME_W-2.5,barY(v),FRAME_W,barY(v),'#333');
    
    
  }
  p.ticks.forEach(function(v){
    const bt=tickLine(g,FRAME_W-5,barY(v),FRAME_W,barY(v),'#333');
    
    
    const lab=mk('text',{x:FRAME_W+5.7,y:barY(v)+4,class:'s'},g);
    
    
    lab.textContent=String(v);
  });

  // frame
  const left=tickLine(g,0,0,0,FRAME_H,'#222');
  left.setAttribute('stroke-width','1.2');
  
  
  const bottom=tickLine(g,0,FRAME_H,FRAME_W,FRAME_H,'#111');
  bottom.setAttribute('stroke-width','1.2');
  
  
  const top=tickLine(g,0,0,FRAME_W,0,'#666');
  top.setAttribute('stroke-width','1.1');
  
  
  const divider=tickLine(g,barLeft,0,barLeft,FRAME_H,'#778');
  
  

  // beam
  const beamX=27, beamY=281, beamR=24;
  const clip=mk('clipPath',{id:'beam-clip-'+p.id},g);
  mk('circle',{cx:beamX,cy:beamY,r:beamR},clip);
  const beam=mk('g',{'clip-path':'url(#beam-clip-'+p.id+')'},g);
  
  
  const ang=40*Math.PI/180, ca=Math.cos(ang), sa=Math.sin(ang);
  for(let k=-5;k<=5;k++){
    const cx=beamX-sa*k*5.4, cy=beamY+ca*k*5.4;
    mk('line',{x1:cx-ca*30,y1:cy-sa*30,x2:cx+ca*30,y2:cy+sa*30,stroke:'#111','stroke-width':1.5},beam);
  }
  const ring=mk('circle',{cx:beamX,cy:beamY,r:beamR,fill:'none',stroke:'#111','stroke-width':1.8},g);
  
  

  // RA tick labels
  const la=mk('text',{x:-14.3,y:FRAME_H+26,class:'s'},g);
  
  
  ['17','h','46','m','00','s'].forEach(function(part,i){
    const ts=mk('tspan',i%2?{'font-size':'8.5','dy':-4}:{'dy':i?4:0},la);
    ts.textContent=part;
  });
  const lb=mk('text',{x:183.4,y:FRAME_H+26,class:'s'},g);
  
  
  ['45','m','50','s'].forEach(function(part,i){
    const ts=mk('tspan',i%2?{'font-size':'8.5','dy':-4}:{'dy':i?4:0},lb);
    ts.textContent=part;
  });

  // Dec tick labels (first column only)
  if(p.col===0){
    decTickValues.forEach(function(v,i){
      const lab=mk('text',{x:-17.3,y:ySky(v)+4,class:'s','text-anchor':'end',textLength:57},g);
      
      
      lab.textContent=decTickLabels[i];
    });
  }
});
</script>
</body>
</html>
